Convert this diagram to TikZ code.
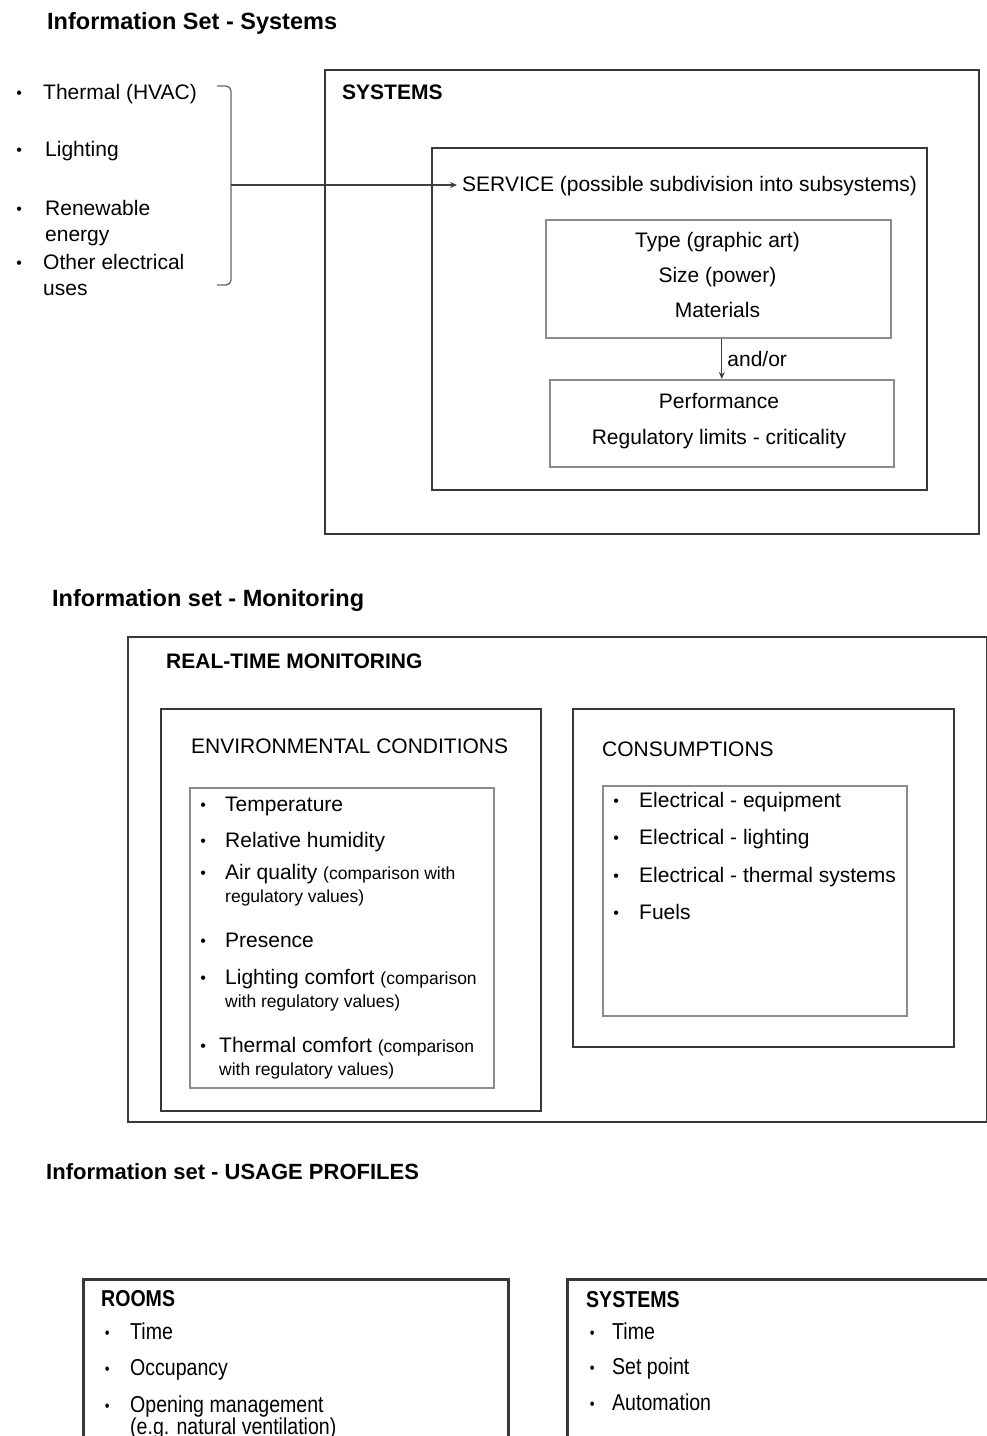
\documentclass[tikz,border=0pt]{standalone}
\usepackage{fontspec}
\setmainfont{Liberation Sans}
\newfontfamily\narrowfont[FakeStretch=0.85]{Liberation Sans}
\usetikzlibrary{arrows.meta, positioning}
\newcommand{\bul}[1]{\llap{\raisebox{1pt}{\fontsize{16}{16}\selectfont\textbullet}\hspace{#1}}}
\newcommand{\remark}{\fontsize{17.5}{23}\selectfont}

\begin{document}
\begin{tikzpicture}[
  x=1pt, y=-1pt,
  heading/.style={anchor=base west, inner sep=0pt, font=\fontsize{23.5}{28}\selectfont\bfseries},
  boxtitle/.style={anchor=base west, inner sep=0pt, font=\fontsize{21}{26}\selectfont\bfseries},
  txt/.style={anchor=base west, inner sep=0pt, align=left, font=\fontsize{21}{26}\selectfont},
  entry/.style={txt, font=\fontsize{21}{23}\selectfont},
  centred/.style={align=center, inner sep=0pt, font=\fontsize{21}{35}\selectfont},
  narrowtxt/.style={anchor=base west, inner sep=0pt, align=left, font=\narrowfont\fontsize{23}{22}\selectfont},
  outerbox/.style={draw=black!78, line width=2.4pt, anchor=north west},
  listbox/.style={draw=black!45, line width=1.6pt, anchor=north west},
  bracket/.style={draw=black!60, line width=1.3pt, rounded corners=5pt},
  arrow/.style={-{Stealth[length=7pt,width=6pt]}, line width=1.2pt, draw=black!75}
]
\useasboundingbox (0,0) rectangle (987,1436);
\clip (0,0) rectangle (987,1436);

% information set: systems
\node[heading] (titlesys) at (47,29) {Information Set - Systems};
\node[txt] (hvac) at (43,99) {\bul{21.3pt}Thermal (HVAC)};
\node[txt] (light) at (45,156) {\bul{23.3pt}Lighting};
\node[txt] (renew) at (45,241) {\bul{23.3pt}Renewable\\energy};
\node[txt] (other) at (43,295) {\bul{21.3pt}Other electrical\\uses};

\node[outerbox, minimum width=654pt, minimum height=464pt] (sysbox) at (324,69) {};
\node[boxtitle] (systitle) at (342,99) {SYSTEMS};
\node[outerbox, minimum width=495pt, minimum height=342pt] (servbox) at (431,147) {};
\node[txt, anchor=west, inner sep=5pt] (service) at (457,186) {SERVICE (possible subdivision into subsystems)};
\node[listbox, minimum width=345pt, minimum height=118pt] (typebox) at (545,219) {};
\node[centred] (typetext) at (717.5,275) {Type (graphic art)\\Size (power)\\Materials};
\node[listbox, minimum width=344pt, minimum height=87pt] (perfbox) at (549,379) {};
\node[centred, font=\fontsize{21}{36}\selectfont] (perftext) at (719,421) {Performance\\Regulatory limits - criticality};

\coordinate (bracetop) at (217,86);
\coordinate (bracebot) at (217,285);
\coordinate (brace) at (231,185);
\draw[bracket] (bracetop) -- ++(14,0) |- (bracebot);
\draw[arrow] (brace) -- (brace -| service.west);
\draw[arrow] (typebox.south -| perfbox.north) -- node[right, inner sep=5pt, font=\fontsize{21}{26}\selectfont] (andor) {and/or} (perfbox.north);

% information set: monitoring
\node[heading] (titlemon) at (52,606) {Information set - Monitoring};
\node[outerbox, minimum width=859pt, minimum height=485pt] (rtbox) at (127,636) {};
\node[boxtitle] (rttitle) at (166,668) {REAL-TIME MONITORING};

\node[outerbox, minimum width=380pt, minimum height=402pt] (envbox) at (160,708) {};
\node[txt] (envtitle) at (191,753) {ENVIRONMENTAL CONDITIONS};
\node[listbox, minimum width=304pt, minimum height=300pt] (envlist) at (189,787) {};
\node[entry] (temp) at (225,811) {\bul{19.3pt}Temperature};
\node[entry] (hum) at (225,847) {\bul{19.3pt}Relative humidity};
\node[entry] (air) at (225,902) {\bul{19.3pt}Air quality {\remark (comparison with}\\{\remark regulatory values)}};
\node[entry] (pres) at (225,947) {\bul{19.3pt}Presence};
\node[entry] (lcomf) at (225,1007) {\bul{19.3pt}Lighting comfort {\remark (comparison}\\{\remark with regulatory values)}};
\node[entry] (tcomf) at (219,1075) {\bul{13.3pt}Thermal comfort {\remark (comparison}\\{\remark with regulatory values)}};

\node[outerbox, minimum width=381pt, minimum height=338pt] (consbox) at (572,708) {};
\node[txt] (constitle) at (602,756) {CONSUMPTIONS};
\node[listbox, minimum width=304pt, minimum height=230pt] (conslist) at (602,785) {};
\node[entry] (eequip) at (639,807) {\bul{20.3pt}Electrical - equipment};
\node[entry] (elight) at (639,844) {\bul{20.3pt}Electrical - lighting};
\node[entry] (etherm) at (639,882) {\bul{20.3pt}Electrical - thermal systems};
\node[entry] (fuels) at (639,919) {\bul{20.3pt}Fuels};

% information set: usage profiles
\node[heading, font=\fontsize{22}{26}\selectfont\bfseries] (titleuse) at (46,1179) {Information set - USAGE PROFILES};

\node[outerbox, line width=2.6pt, minimum width=425pt, minimum height=220pt] (roombox) at (82,1278) {};
\node[narrowtxt, font=\narrowfont\fontsize{23}{22}\selectfont\bfseries] (roomtitle) at (101,1306) {ROOMS};
\node[narrowtxt] (rtime) at (130,1339) {\bul{20.6pt}Time};
\node[narrowtxt] (occup) at (130,1375) {\bul{20.6pt}Occupancy};
\node[narrowtxt] (opening) at (130,1434) {\bul{20.6pt}Opening management\\(e.g. natural ventilation)};

\node[outerbox, line width=2.6pt, minimum width=440pt, minimum height=220pt] (sysbox2) at (566,1278) {};
\node[narrowtxt, font=\narrowfont\fontsize{23}{22}\selectfont\bfseries] (systitle2) at (586,1307) {SYSTEMS};
\node[narrowtxt] (stime) at (612,1339) {\bul{17.6pt}Time};
\node[narrowtxt] (setpt) at (612,1374) {\bul{17.6pt}Set point};
\node[narrowtxt] (autom) at (612,1410) {\bul{17.6pt}Automation};
\end{tikzpicture}
\end{document}
